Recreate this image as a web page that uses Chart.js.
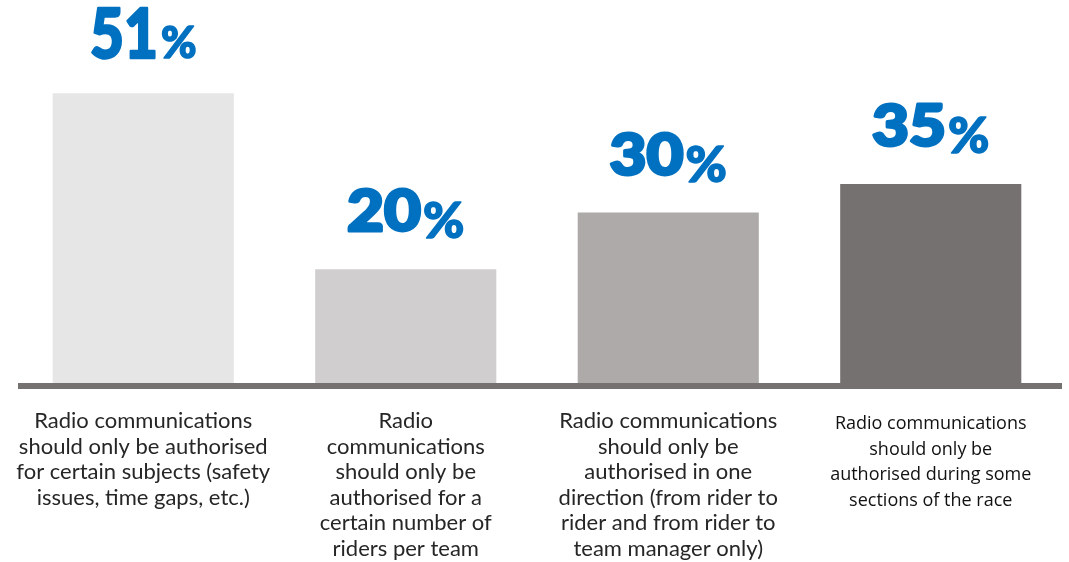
<!DOCTYPE html>
<html>
<head>
<meta charset="utf-8">
<script src="https://cdn.jsdelivr.net/npm/chart.js@4/dist/chart.umd.min.js"></script>
<style>
  html, body { margin: 0; padding: 0; background: #ffffff; }
  #wrap { width: 1069px; height: 562px; position: relative; }
</style>
</head>
<body>
<div id="wrap"><canvas id="chart" width="1069" height="562"></canvas></div>
<script>
// Survey answers: how team radio should be restricted
const categories = [
  ["Radio communications", "should only be authorised", "for certain subjects (safety", "issues, time gaps, etc.)"],
  ["Radio", "communications", "should only be", "authorised for a", "certain number of", "riders per team"],
  ["Radio communications", "should only be", "authorised in one", "direction (from rider to", "rider and from rider to", "team manager only)"],
  ["Radio communications", "should only be", "authorised during some", "sections of the race"]
];
const shares = [51, 20, 30, 35];

const barColors = ["#E7E6E6", "#D0CECE", "#AEAAAA", "#767171"];
const valueColor = "#0070C0";
const axisColor = "#767171";

// Thick baseline drawn over the feet of the bars
const baselinePlugin = {
  id: "baseline",
  afterDatasetsDraw(chart) {
    const { ctx, chartArea } = chart;
    ctx.save();
    ctx.fillStyle = axisColor;
    ctx.fillRect(chartArea.left + 6, chartArea.bottom, chartArea.right - chartArea.left - 6, 6);
    ctx.restore();
  }
};

// Label styles: the leading answer gets a taller, tighter figure
const headlineStyle = { numFont: "900 68px Lato", pctFont: "900 43px Lato", sx: 0.86, gap: 3, pctDrop: 0, lift: 35, stroke: 2.5 };
const regularStyle  = { numFont: "900 58px Lato", pctFont: "900 50px Lato", sx: 1.1, gap: 2, pctDrop: 7, lift: 38, stroke: 3 };

// Big percentage above each bar, heavy number and % sign
const valuePlugin = {
  id: "values",
  afterDatasetsDraw(chart) {
    const { ctx } = chart;
    const meta = chart.getDatasetMeta(0);
    const top = Math.max(...shares);
    ctx.save();
    ctx.fillStyle = valueColor;
    ctx.strokeStyle = valueColor;
    ctx.lineJoin = "round";
    ctx.textBaseline = "alphabetic";
    ctx.textAlign = "left";
    meta.data.forEach((bar, i) => {
      const st = shares[i] === top ? headlineStyle : regularStyle;
      const num = String(shares[i]);
      ctx.font = st.numFont;
      const wNum = ctx.measureText(num).width * st.sx;
      ctx.font = st.pctFont;
      const wPct = ctx.measureText("%").width;
      const total = wNum + st.gap + wPct;
      const x0 = bar.x - total / 2;
      const y = bar.y - st.lift;

      ctx.save();
      ctx.translate(x0, y);
      ctx.scale(st.sx, 1);
      ctx.font = st.numFont;
      ctx.lineWidth = st.stroke;
      ctx.fillText(num, 0, 0);
      ctx.strokeText(num, 0, 0);
      ctx.restore();

      ctx.font = st.pctFont;
      ctx.lineWidth = 1.5;
      ctx.fillText("%", x0 + wNum + st.gap, y + st.pctDrop);
      ctx.strokeText("%", x0 + wNum + st.gap, y + st.pctDrop);
    });
    ctx.restore();
  }
};

// Multi-line category captions under the baseline
const captionPlugin = {
  id: "captions",
  afterDraw(chart) {
    const { ctx, chartArea } = chart;
    const meta = chart.getDatasetMeta(0);
    ctx.save();
    ctx.textAlign = "center";
    ctx.textBaseline = "middle";
    meta.data.forEach((bar, i) => {
      const last = i === categories.length - 1;
      ctx.font = last ? "18px 'Open Sans'" : "22px Lato";
      ctx.fillStyle = last ? "#111111" : "#262626";
      const lh = 25.5;
      const top = chartArea.bottom + (last ? 41 : 38);
      categories[i].forEach((line, k) => {
        ctx.fillText(line, bar.x, top + k * lh);
      });
    });
    ctx.restore();
  }
};

new Chart(document.getElementById("chart"), {
  type: "bar",
  data: {
    labels: categories.map(c => c.join(" ")),
    datasets: [{
      data: shares,
      backgroundColor: barColors,
      borderWidth: 0,
      barPercentage: 1,
      categoryPercentage: 0.69
    }]
  },
  options: {
    responsive: false,
    animation: false,
    devicePixelRatio: 1,
    layout: { padding: { top: 42, bottom: 179, left: 12, right: 7 } },
    plugins: {
      legend: { display: false },
      tooltip: { enabled: false },
      title: { display: false }
    },
    scales: {
      x: { display: false },
      y: { display: false, min: 0, max: 60 }
    }
  },
  plugins: [baselinePlugin, valuePlugin, captionPlugin]
});
</script>
</body>
</html>
